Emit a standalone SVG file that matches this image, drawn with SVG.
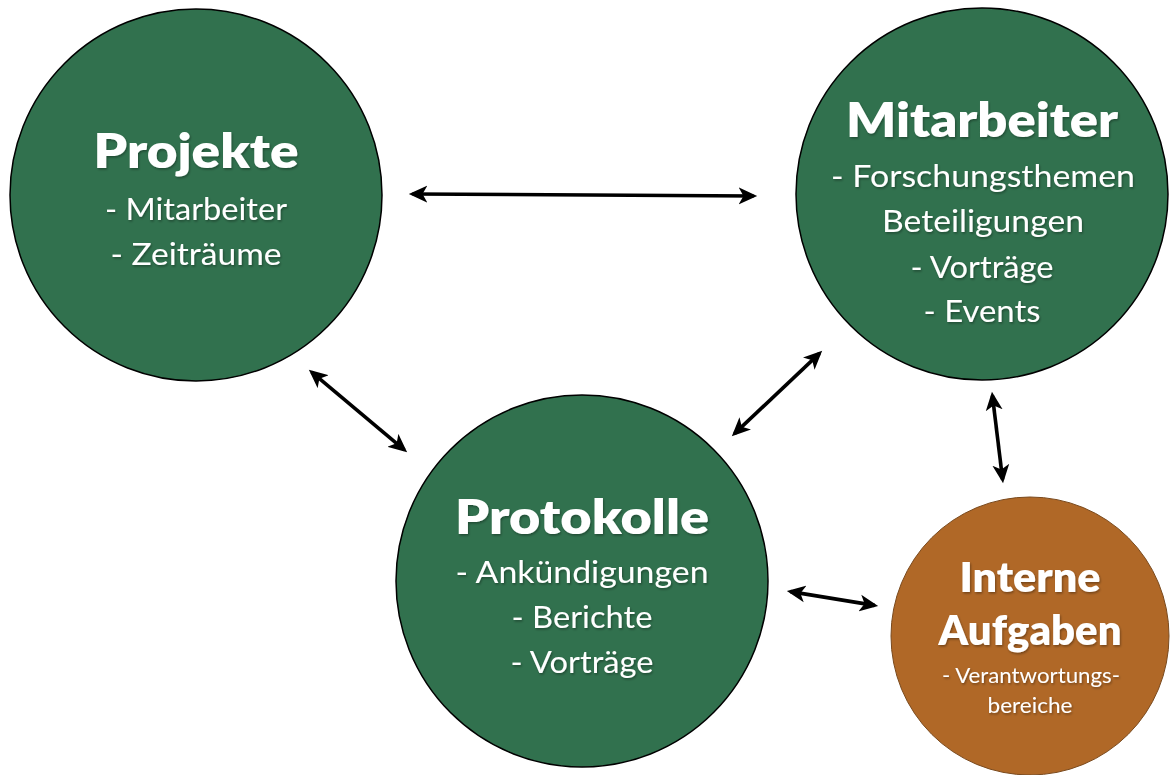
<svg xmlns="http://www.w3.org/2000/svg" width="1176" height="775" viewBox="0 0 1176 775">
  <style>
    .green { fill: #31714E; stroke: #000; stroke-width: 1.5; }
    .orange { fill: #B06827; stroke: #7a4a1e; stroke-width: 1; }
    text { font-family: "Lato", "Noto Sans", "Liberation Sans", sans-serif; fill: #fff; text-anchor: middle; filter: url(#shadow); }
    .title { font-weight: 800; font-size: 48px; }
    .sub { font-size: 31px; }
    .ititle { font-weight: 800; font-size: 42px; }
    .isub { font-size: 21px; }
    .conn { stroke: #000; stroke-width: 3.6; fill: none; marker-start: url(#arrow); marker-end: url(#arrow); }
  </style>
  <defs>
    <filter id="shadow" x="-10%" y="-20%" width="120%" height="150%">
      <feDropShadow dx="1" dy="1.5" stdDeviation="1" flood-color="#000" flood-opacity="0.35"/>
    </filter>
    <marker id="arrow" markerUnits="userSpaceOnUse" markerWidth="19" markerHeight="18" viewBox="0 0 18 17" refX="14" refY="8.5" orient="auto-start-reverse">
      <path d="M17.5,8.5 L0,0.5 L4.5,8.5 L0,16.5 Z" fill="#000"/>
    </marker>
  </defs>
  <rect width="1176" height="775" fill="#fff"/>

  <g id="connectors">
    <line class="conn" x1="412.5" y1="194" x2="753.5" y2="196"/>
    <line class="conn" x1="311.7" y1="372.2" x2="404.3" y2="449.8"/>
    <line class="conn" x1="819.5" y1="353.4" x2="734.5" y2="433.6"/>
    <line class="conn" x1="992.4" y1="395.5" x2="1002.6" y2="479.5"/>
    <line class="conn" x1="790.5" y1="591.6" x2="874.5" y2="605.4"/>
  </g>

  <g id="projekte">
    <circle class="green" cx="196" cy="195" r="186"/>
    <text class="title" x="196" y="168" textLength="205" lengthAdjust="spacingAndGlyphs">Projekte</text>
    <text class="sub" x="196" y="220" textLength="182" lengthAdjust="spacingAndGlyphs">- Mitarbeiter</text>
    <text class="sub" x="196" y="265" textLength="171" lengthAdjust="spacingAndGlyphs">- Zeiträume</text>
  </g>

  <g id="mitarbeiter">
    <circle class="green" cx="982" cy="194" r="186"/>
    <text class="title" x="982" y="137" textLength="272" lengthAdjust="spacingAndGlyphs">Mitarbeiter</text>
    <text class="sub" x="983" y="187" textLength="304" lengthAdjust="spacingAndGlyphs">- Forschungsthemen</text>
    <text class="sub" x="983" y="232" textLength="202" lengthAdjust="spacingAndGlyphs">Beteiligungen</text>
    <text class="sub" x="982" y="278" textLength="143" lengthAdjust="spacingAndGlyphs">- Vorträge</text>
    <text class="sub" x="982" y="322" textLength="117" lengthAdjust="spacingAndGlyphs">- Events</text>
  </g>

  <g id="protokolle">
    <circle class="green" cx="582" cy="581" r="186"/>
    <text class="title" x="582" y="534" textLength="254" lengthAdjust="spacingAndGlyphs">Protokolle</text>
    <text class="sub" x="582" y="583" textLength="253" lengthAdjust="spacingAndGlyphs">- Ankündigungen</text>
    <text class="sub" x="582" y="628" textLength="141" lengthAdjust="spacingAndGlyphs">- Berichte</text>
    <text class="sub" x="582" y="673" textLength="143" lengthAdjust="spacingAndGlyphs">- Vorträge</text>
  </g>

  <g id="interne-aufgaben">
    <circle class="orange" cx="1030" cy="636" r="139"/>
    <text class="ititle" x="1030" y="592" textLength="141" lengthAdjust="spacingAndGlyphs">Interne</text>
    <text class="ititle" x="1030" y="645" textLength="183" lengthAdjust="spacingAndGlyphs">Aufgaben</text>
    <text class="isub" x="1031" y="683" textLength="178" lengthAdjust="spacingAndGlyphs">- Verantwortungs-</text>
    <text class="isub" x="1030" y="713" textLength="85" lengthAdjust="spacingAndGlyphs">bereiche</text>
  </g>
</svg>
